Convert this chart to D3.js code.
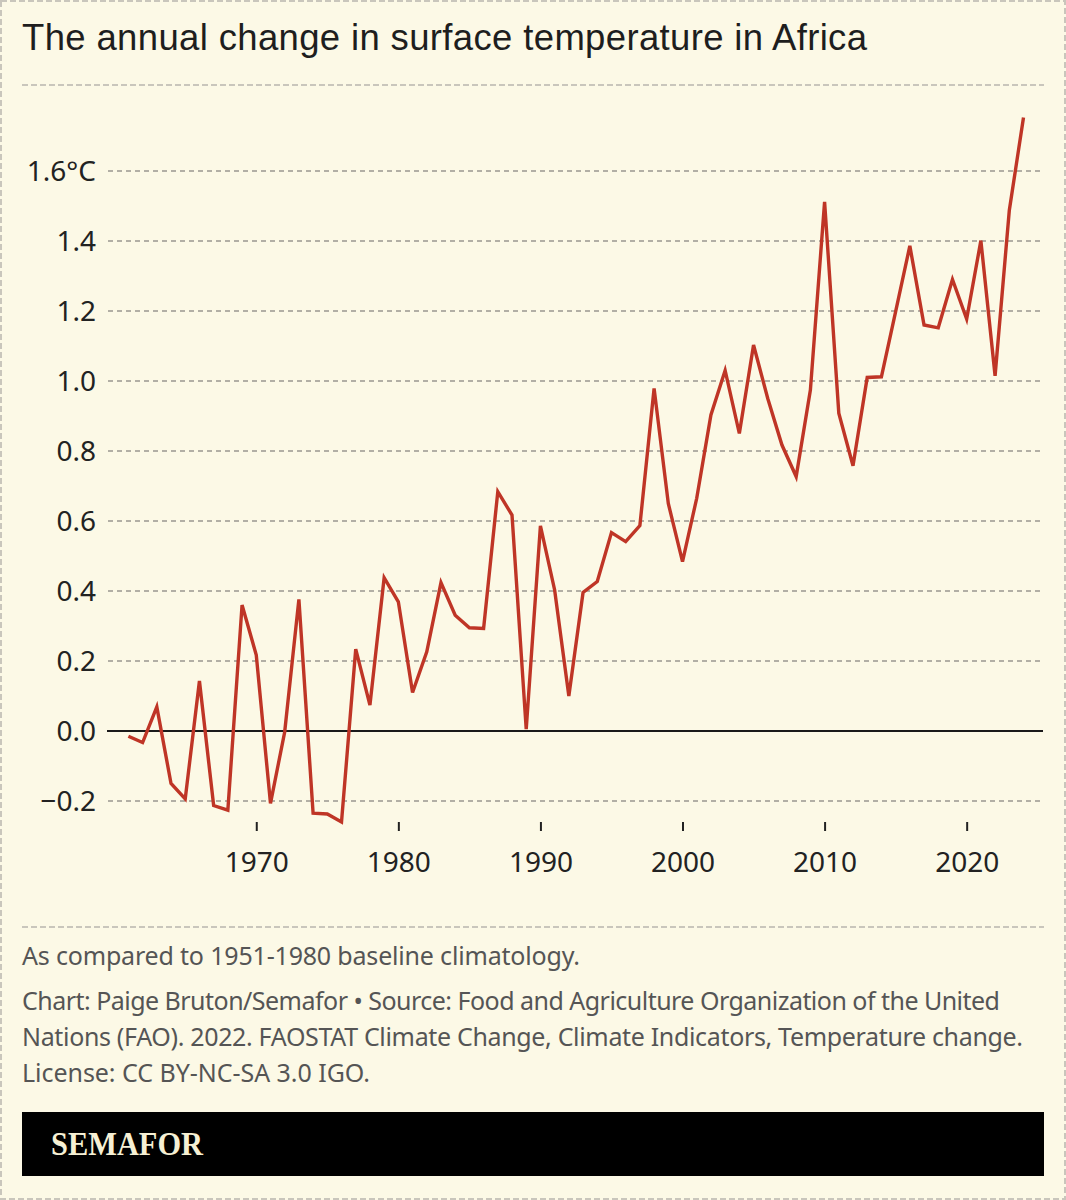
<!DOCTYPE html>
<html>
<head>
<meta charset="utf-8">
<script src="https://cdn.jsdelivr.net/npm/d3@7"></script>
<style>
  html, body { margin: 0; padding: 0; background: #fcf9e6; }
  svg { display: block; }
</style>
</head>
<body>
<script>
const years = d3.range(1961, 2025);
const values = [
  -0.015, -0.033, 0.069, -0.15, -0.194, 0.143, -0.213, -0.226, 0.36, 0.217,
  -0.207, -0.003, 0.376, -0.235, -0.237, -0.26, 0.234, 0.074, 0.438, 0.369,
  0.11, 0.226, 0.424, 0.331, 0.295, 0.293, 0.684, 0.617, 0.005, 0.586,
  0.403, 0.1, 0.396, 0.427, 0.567, 0.541, 0.587, 0.979, 0.65, 0.484,
  0.665, 0.903, 1.03, 0.85, 1.103, 0.95, 0.817, 0.727, 0.974, 1.512,
  0.908, 0.758, 1.01, 1.012, 1.198, 1.386, 1.16, 1.152, 1.29, 1.177,
  1.401, 1.015, 1.487, 1.753
];
const yTicks = [-0.2, 0, 0.2, 0.4, 0.6, 0.8, 1.0, 1.2, 1.4, 1.6];
const xTicks = [1970, 1980, 1990, 2000, 2010, 2020];
const title = "The annual change in surface temperature in Africa";
const noteLines = ["As compared to 1951-1980 baseline climatology."];
const sourceLines = [
  "Chart: Paige Bruton/Semafor \u2022 Source: Food and Agriculture Organization of the United",
  "Nations (FAO). 2022. FAOSTAT Climate Change, Climate Indicators, Temperature change.",
  "License: CC BY-NC-SA 3.0 IGO."
];
const brand = "SEMAFOR";

const W = 1066, H = 1200;
const svg = d3.select("body").append("svg").attr("width", W).attr("height", H);

svg.append("rect").attr("x", 0).attr("y", 0).attr("width", W).attr("height", H).attr("fill", "#fcf9e6");
svg.append("rect").attr("x", 1).attr("y", 1).attr("width", W - 2).attr("height", H - 2)
  .attr("fill", "none").attr("stroke", "#c9c6bc").attr("stroke-width", 2).attr("stroke-dasharray", "6,3");

svg.append("text").attr("x", 22).attr("y", 50).text(title)
  .attr("font-family", "'Liberation Sans', Arial, sans-serif").attr("font-size", 36.5).attr("fill", "#1e1e1e")
  .attr("textLength", 845).attr("lengthAdjust", "spacing");

const sep = (yy) => svg.append("line").attr("x1", 22).attr("x2", 1044).attr("y1", yy).attr("y2", yy)
  .attr("stroke", "#c9c6bc").attr("stroke-width", 2).attr("stroke-dasharray", "6,3");
sep(85);
sep(927);

const x = d3.scaleLinear().domain([1961, 2024]).range([128.4, 1023.5]);
const y = d3.scaleLinear().domain([-0.2, 1.6]).range([801, 171]);

const gridG = svg.append("g");
gridG.selectAll("line").data(yTicks.filter(d => d !== 0)).join("line")
  .attr("x1", 108).attr("x2", 1043)
  .attr("y1", d => y(d)).attr("y2", d => y(d))
  .attr("stroke", "#b2afa5").attr("stroke-width", 2).attr("stroke-dasharray", "5,4");

// y axis labels
const yAxis = d3.axisLeft(y).tickValues(yTicks).tickSize(0).tickPadding(0)
  .tickFormat(d => d3.format(".1f")(d) + (d === 1.6 ? "\u00b0C" : ""));
const yG = svg.append("g").attr("transform", "translate(96,0)").call(yAxis);
yG.select(".domain").remove();
yG.selectAll("text").attr("font-family", "'Noto Sans', sans-serif").attr("font-size", 28)
  .attr("fill", "#222").attr("dy", "0.35em");

// zero line
svg.append("line").attr("x1", 107).attr("x2", 1043).attr("y1", y(0)).attr("y2", y(0))
  .attr("stroke", "#1a1a1a").attr("stroke-width", 2);

// x axis
const xAxis = d3.axisBottom(x).tickValues(xTicks).tickSize(9).tickPadding(21).tickFormat(d3.format("d"));
const xG = svg.append("g").attr("transform", "translate(0,822)").call(xAxis);
xG.select(".domain").remove();
xG.selectAll(".tick line").attr("stroke", "#222").attr("stroke-width", 2);
xG.selectAll("text").attr("font-family", "'Noto Sans', sans-serif").attr("font-size", 28)
  .attr("fill", "#222");

// line
const line = d3.line().x((d, i) => x(years[i])).y(d => y(d));
svg.append("path").datum(values).attr("d", line)
  .attr("fill", "none").attr("stroke", "#bf3526").attr("stroke-width", 3.4)
  .attr("stroke-linejoin", "miter").attr("stroke-miterlimit", 4);

// notes
const fnote = "'Noto Sans', sans-serif";
const notes = svg.append("g");
const noteWidths = [558];
const sourceWidths = [978, 1001, 348];
noteLines.forEach((t, i) => {
  notes.append("text").attr("x", 22).attr("y", 965).text(t)
    .attr("font-family", fnote).attr("font-size", 25).attr("fill", "#555")
    .attr("textLength", noteWidths[i]).attr("lengthAdjust", "spacing");
});
sourceLines.forEach((t, i) => {
  notes.append("text").attr("x", 22).attr("y", 1010 + i * 36).text(t)
    .attr("font-family", fnote).attr("font-size", 25).attr("fill", "#555")
    .attr("textLength", sourceWidths[i]).attr("lengthAdjust", "spacing");
});

// brand bar
svg.append("rect").attr("x", 22).attr("y", 1112).attr("width", 1022).attr("height", 64).attr("fill", "#000");
svg.append("text").attr("x", 51).attr("y", 1155).text(brand)
  .attr("font-family", "'Liberation Serif', serif").attr("font-weight", "bold").attr("font-size", 33)
  .attr("fill", "#f6f0d4").attr("textLength", 152).attr("lengthAdjust", "spacingAndGlyphs");
</script>
</body>
</html>
